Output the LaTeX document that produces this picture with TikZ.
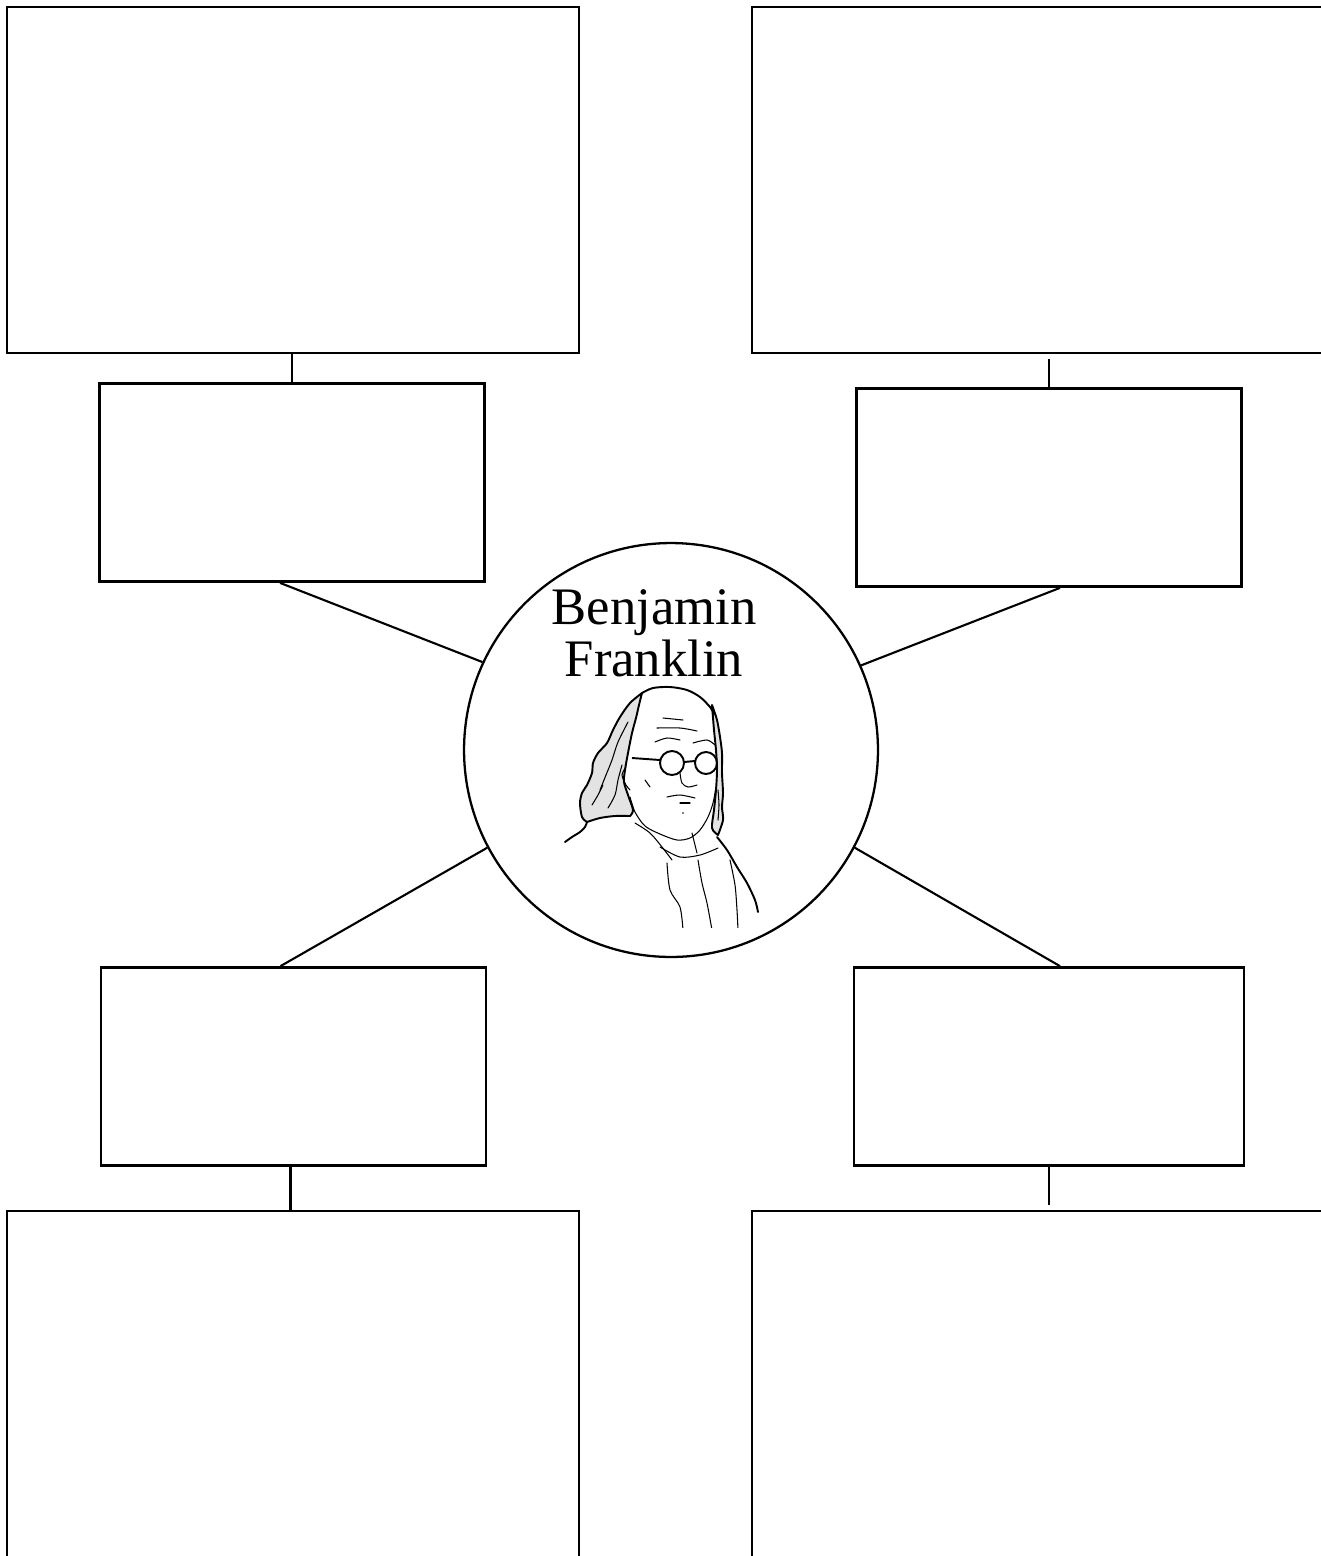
\documentclass[tikz,border=0pt]{standalone}
\usepackage{fontspec}
\setmainfont{Liberation Serif}
\usetikzlibrary{positioning, calc}

\begin{document}
\begin{tikzpicture}[
        x=0.02cm, y=-0.02cm,
        bigbox/.style={rectangle, draw, line width=1.5pt, minimum width=11.44cm, minimum height=6.92cm, inner sep=0pt},
        smallbox/.style={rectangle, draw, line width=1.5pt, minimum width=7.7cm, minimum height=3.96cm, inner sep=0pt},
        link/.style={line width=1.2pt},
        sketch/.style={line width=0.6pt, line cap=round, line join=round},
        outline/.style={line width=1.1pt, line cap=round, line join=round},
        hair/.style={outline, fill=gray!22}
    ]
    \useasboundingbox (0,0) rectangle (1321,1556);
    \clip (0,0) rectangle (1321,1556);

    % outer boxes
    \node[bigbox] (detailNW) at (293,180) {};
    \node[bigbox] (detailNE) at (1038,180) {};
    \node[bigbox] (detailSW) at (293,1384) {};
    \node[bigbox] (detailSE) at (1038,1384) {};

    % inner boxes
    \node[smallbox, below=0.56cm of detailNW, xshift=-0.02cm] (factNW) {};
    \node[smallbox, below=0.66cm of detailNE, xshift=0.22cm] (factNE) {};
    \node[smallbox, above=0.86cm of detailSW, xshift=0.01cm] (factSW) {};
    \node[smallbox, above=0.86cm of detailSE, xshift=0.22cm, minimum width=7.8cm] (factSE) {};

    % centre
    \node[circle, draw, line width=1.3pt, minimum size=8.28cm, inner sep=0pt] (ben) at (671,750) {};
    \node[font=\fontsize{30}{30}\selectfont, align=center, inner sep=0pt, anchor=north] (name) at (654,589) {Benjamin\\Franklin};

    \draw[link] (factNW.north |- detailNW.south) -- (factNW.north);
    \draw[link, shorten <=0.1cm] (factNE.north |- detailNE.south) -- (factNE.north);
    \draw[link] ($(factSW.south)+(-3,0)$) -- ($(factSW.south |- detailSW.north)+(-3,0)$);
    \draw[link, shorten >=0.1cm] (factSE.south) -- (factSE.south |- detailSE.north);

    \draw[link] ($(factNW.south)+(-12,0)$) -- (ben.155);
    \draw[link] ($(factNE.south)+(11,0)$) -- (ben.24);
    \draw[link] ($(factSW.north)+(-13,0)$) -- (ben.208);
    \draw[link] ($(factSE.north)+(11,0)$) -- (ben.332);

    % portrait sketch
    \begin{scope}
        \clip (540,680) rectangle (800,927);
        % hair, left
        \draw[hair] plot[smooth] coordinates {(587,822) (582,817) (580,803) (582,793) (587,785) (592,773) (593,763) (598,753) (607,743) (613,730) (620,717) (630,703) (642,693)}
            -- plot[smooth] coordinates {(642,693) (639,705) (636,718) (632,733) (628,753) (625,770) (624,782) (628,795) (633,810) (630,816)}
            -- plot[smooth] coordinates {(630,816) (615,816) (600,818) (587,822)} -- cycle;
        % hair, right
        \draw[hair] plot[smooth] coordinates {(712,705) (717,720) (720,737) (722,753) (722,773) (723,793) (722,807) (723,820) (718,835)}
            -- plot[smooth] coordinates {(718,835) (712,828) (714,810) (716,790) (717,770) (716,750) (714,730) (712,705)} -- cycle;
        % scalp
        \draw[outline] plot[smooth] coordinates {(642,693) (653,688) (670,687) (687,690) (700,697) (710,707) (714,714)};
        % hair strands
        \draw[sketch] plot[smooth] coordinates {(600,790) (606,775) (612,760) (618,742) (628,722)};
        \draw[sketch] plot[smooth] coordinates {(592,805) (598,795) (603,785)};
        \draw[sketch] plot[smooth] coordinates {(608,808) (615,795) (618,780) (622,765)};
        \draw[sketch] plot[smooth] coordinates {(718,790) (719,805) (718,820)};
        % shoulder
        \draw[outline] plot[smooth] coordinates {(565,842) (572,837) (580,832) (585,827) (587,822)};
        % face
        \draw[sketch] plot[smooth] coordinates {(630,797) (635,812) (645,826) (660,834) (677,840) (690,838) (700,830) (708,817) (713,803) (716,787)};
        \draw[sketch] plot[smooth] coordinates {(626,767) (622,775) (626,785) (630,790)};
        \draw[sketch] (663,718) -- (683,720);
        \draw[sketch] plot[smooth] coordinates {(657,728) (680,728) (697,731)};
        \draw[sketch] plot[smooth] coordinates {(655,742) (667,738) (680,740)};
        \draw[sketch] plot[smooth] coordinates {(693,743) (707,740) (715,745)};
        % glasses
        \draw[line width=1.1pt] (672,763) circle[radius=12];
        \draw[line width=1.1pt] (706,763) circle[radius=11];
        \draw[line width=1.1pt] (660,760) -- (632,758);
        \draw[line width=1.1pt] (684,762) -- (695,761);
        % nose, mouth, cheek
        \draw[sketch] plot[smooth] coordinates {(680,773) (682,783) (688,787) (697,785)};
        \draw[sketch] (645,780) -- (650,787);
        \draw[sketch] plot[smooth] coordinates {(667,797) (680,795) (695,798)};
        \draw[sketch] (680,803) -- (690,803);
        \fill (683,813) circle[radius=0.8];
        % neck and coat
        \draw[sketch] plot[smooth] coordinates {(635,823) (650,833) (662,847) (672,860)};
        \draw[sketch] plot[smooth] coordinates {(660,847) (680,857) (700,855) (718,848)};
        \draw[sketch] plot[smooth] coordinates {(692,833) (695,845) (697,853)};
        \draw[sketch] plot[smooth] coordinates {(667,863) (670,890) (680,907) (683,930)};
        \draw[sketch] plot[smooth] coordinates {(698,860) (702,883) (707,903) (712,930)};
        \draw[sketch] plot[smooth] coordinates {(730,860) (735,885) (737,910) (738,930)};
        \draw[outline] plot[smooth] coordinates {(717,837) (727,850) (737,867) (747,883) (755,900) (758,912)};
    \end{scope}
\end{tikzpicture}
\end{document}
